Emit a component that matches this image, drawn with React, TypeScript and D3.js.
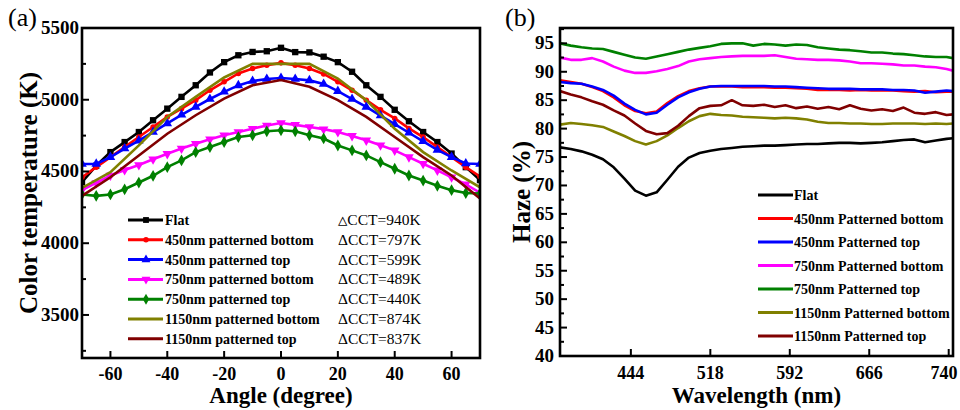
import React from 'react';
import * as d3 from 'd3';

// ---------- Panel (a) data ----------
const angles = [-70, -65, -60, -55, -50, -45, -40, -35, -30, -25, -20, -15, -10, -5, 0, 5, 10, 15, 20, 25, 30, 35, 40, 45, 50, 55, 60, 65, 70];
const anglesCoarse = [-70, -60, -50, -40, -30, -20, -10, 0, 10, 20, 30, 40, 50, 60, 70];
const cctFlat = [4425, 4540, 4635, 4705, 4775, 4857, 4938, 5020, 5101, 5190, 5262, 5310, 5333, 5338, 5362, 5332, 5330, 5300, 5262, 5195, 5101, 5020, 4930, 4850, 4775, 4705, 4625, 4530, 4440];
const cct450Bottom = [4460, 4530, 4600, 4670, 4740, 4810, 4880, 4938, 4997, 5066, 5125, 5183, 5218, 5241, 5257, 5241, 5218, 5180, 5125, 5066, 4997, 4930, 4870, 4800, 4740, 4670, 4600, 4530, 4465];
const cct450Top = [4552, 4553, 4600, 4660, 4715, 4775, 4835, 4895, 4950, 5005, 5055, 5100, 5130, 5145, 5151, 5145, 5135, 5110, 5060, 5005, 4950, 4890, 4830, 4770, 4710, 4650, 4600, 4556, 4552];
const cct750Bottom = [4370, 4420, 4472, 4510, 4545, 4585, 4623, 4660, 4693, 4725, 4752, 4775, 4798, 4820, 4838, 4825, 4810, 4795, 4775, 4748, 4717, 4683, 4647, 4600, 4554, 4508, 4460, 4410, 4352];
const cct750Top = [4340, 4330, 4340, 4376, 4423, 4470, 4530, 4577, 4635, 4670, 4705, 4740, 4752, 4780, 4787, 4780, 4752, 4730, 4681, 4647, 4612, 4565, 4519, 4472, 4437, 4400, 4370, 4350, 4347];
const cct1150Bottom = [4385, 4495, 4682, 4880, 5020, 5155, 5250, 5250, 5250, 5148, 4997, 4798, 4635, 4507, 4390];
const cct1150Top = [4330, 4460, 4612, 4763, 4892, 5008, 5101, 5137, 5090, 4997, 4880, 4740, 4600, 4472, 4312];
const seriesNamesA = ['Flat', '450nm patterned bottom', '450nm patterned top', '750nm patterned bottom', '750nm patterned top', '1150nm patterned bottom', '1150nm patterned top'];
const deltaCCT = ['\u25B3CCT=940K', '\u0394CCT=797K', '\u0394CCT=599K', '\u0394CCT=489K', '\u0394CCT=440K', '\u0394CCT=874K', '\u0394CCT=837K'];
const angleTicks = [-60, -40, -20, 0, 20, 40, 60];
const cctTicks = [3500, 4000, 4500, 5000, 5500];
const cctMinorTicks = [3250, 3750, 4250, 4750, 5250];

// ---------- Panel (b) data ----------
const wavelengths = [378, 388, 398, 408, 418, 428, 438, 448, 458, 468, 478, 488, 498, 508, 518, 528, 538, 548, 558, 568, 578, 588, 598, 608, 618, 628, 638, 648, 658, 668, 678, 688, 698, 708, 718, 728, 738, 744];
const hazeFlat = [76.7, 76.4, 76.0, 75.4, 74.6, 73.2, 71.2, 69.1, 68.2, 68.8, 71.0, 73.3, 74.9, 75.7, 76.1, 76.4, 76.6, 76.8, 76.9, 77.0, 77.0, 77.1, 77.2, 77.3, 77.3, 77.4, 77.5, 77.5, 77.4, 77.5, 77.6, 77.8, 78.0, 78.1, 77.6, 77.9, 78.2, 78.3];
const haze450Bottom = [88.5, 88.2, 87.9, 87.3, 86.6, 85.5, 84.1, 83.1, 82.7, 83.0, 84.5, 85.7, 86.6, 87.1, 87.4, 87.4, 87.4, 87.3, 87.3, 87.3, 87.2, 87.2, 87.1, 87.0, 86.8, 86.8, 86.8, 86.7, 86.8, 86.7, 86.7, 86.7, 86.6, 86.5, 86.6, 86.4, 86.5, 86.5];
const haze450Top = [88.2, 88.0, 87.9, 87.4, 86.8, 85.8, 84.4, 83.3, 82.5, 82.8, 84.2, 85.5, 86.4, 87.0, 87.4, 87.5, 87.5, 87.5, 87.5, 87.5, 87.4, 87.4, 87.3, 87.2, 87.1, 87.0, 87.0, 87.0, 86.9, 86.9, 86.9, 86.8, 86.8, 86.7, 86.3, 86.5, 86.7, 86.6];
const haze750Bottom = [92.5, 92.1, 92.1, 92.4, 91.8, 90.9, 90.2, 89.8, 89.8, 90.1, 90.5, 91.0, 91.8, 92.2, 92.4, 92.6, 92.7, 92.8, 92.8, 92.8, 92.9, 92.6, 92.3, 92.2, 92.1, 92.1, 92.0, 91.8, 91.5, 91.5, 91.4, 91.3, 91.1, 91.1, 90.9, 90.8, 90.5, 90.2];
const haze750Top = [95.0, 94.6, 94.3, 94.1, 94.0, 93.5, 93.0, 92.5, 92.3, 92.7, 93.1, 93.5, 93.9, 94.2, 94.5, 94.9, 95.0, 95.0, 94.6, 94.9, 94.8, 94.6, 94.8, 94.7, 94.3, 94.1, 93.9, 93.8, 93.6, 93.4, 93.4, 93.2, 93.1, 92.9, 92.7, 92.6, 92.6, 92.4];
const haze1150Bottom = [80.7, 81.0, 80.8, 80.6, 80.3, 79.5, 78.7, 77.8, 77.2, 77.8, 78.8, 80.1, 81.3, 82.2, 82.6, 82.4, 82.3, 82.1, 82.0, 81.9, 81.8, 81.9, 81.8, 81.6, 81.2, 81.0, 81.0, 80.9, 80.9, 80.8, 80.8, 80.9, 80.9, 80.9, 80.8, 80.9, 80.8, 80.9];
const haze1150Top = [86.6, 86.0, 85.5, 84.8, 84.2, 83.2, 82.3, 80.9, 79.6, 79.0, 79.2, 80.5, 82.2, 83.6, 84.0, 84.1, 85.0, 84.1, 84.0, 84.2, 83.8, 84.1, 83.6, 83.9, 83.5, 83.8, 83.4, 84.1, 83.5, 83.2, 83.4, 83.1, 83.7, 82.8, 82.6, 82.9, 82.4, 82.5];
const seriesNamesB = ['Flat', '450nm Patterned bottom', '450nm Patterned top', '750nm Patterned bottom', '750nm Patterned top', '1150nm Patterned bottom', '1150nm Patterned top'];
const wlTicks = [444, 518, 592, 666, 740];
const hazeTicks = [40, 45, 50, 55, 60, 65, 70, 75, 80, 85, 90, 95];
const hazeMinorTicks = [42.5, 47.5, 52.5, 57.5, 62.5, 67.5, 72.5, 77.5, 82.5, 87.5, 92.5, 97.5];

const colors = ['#000000', '#ff0000', '#0000ff', '#ff00ff', '#008000', '#808000', '#800000'];
const markerTypes = [d3.symbolSquare, d3.symbolCircle, d3.symbolTriangle, d3.symbolTriangle, d3.symbolDiamond, null, null];
const markerRot = [0, 0, 0, 180, 0, 0, 0];

const SERIF = { fontFamily: "'Liberation Serif', 'Times New Roman', Times, monospace" };

export default function App() {
  // Panel a layout
  const ax = { l: 82, r: 480, t: 28, b: 358 };
  const xA = d3.scaleLinear().domain([-70, 70]).range([ax.l, ax.r]);
  const yA = d3.scaleLinear().domain([3200, 5500]).range([ax.b, ax.t]);
  const seriesA = [
    { x: angles, y: cctFlat },
    { x: angles, y: cct450Bottom },
    { x: angles, y: cct450Top },
    { x: angles, y: cct750Bottom },
    { x: angles, y: cct750Top },
    { x: anglesCoarse, y: cct1150Bottom },
    { x: anglesCoarse, y: cct1150Top },
  ];
  const lineA = d3.line<[number, number]>().x(d => xA(d[0])).y(d => yA(d[1]));

  // Panel b layout
  const bx = { l: 560, r: 953, t: 28, b: 356 };
  const xB = d3.scaleLinear().domain([378, 744]).range([bx.l, bx.r]);
  const yB = d3.scaleLinear().domain([40, 97.7]).range([bx.b, bx.t]);
  const seriesB = [hazeFlat, haze450Bottom, haze450Top, haze750Bottom, haze750Top, haze1150Bottom, haze1150Top];
  const lineB = d3.line<[number, number]>().x(d => xB(d[0])).y(d => yB(d[1]));
  const orderB = [0, 5, 6, 3, 4, 1, 2];

  const sym = (i: number, size: number) => {
    const t = markerTypes[i];
    if (!t) return null;
    return d3.symbol().type(t).size(size)();
  };

  const legendRowsA = seriesNamesA.map((_, i) => 220 + i * 19.8);
  const legendRowsB = seriesNamesB.map((_, i) => 195 + i * 23.5);

  return (
    <svg width={960} height={410} style={{ display: 'block', position: 'absolute', left: 0, top: 0, background: '#fff', ...SERIF }}>
      <rect x={0} y={0} width={960} height={410} fill="#fff" />
      <defs>
        <clipPath id="clipA"><rect x={ax.l} y={ax.t} width={ax.r - ax.l} height={ax.b - ax.t} /></clipPath>
        <clipPath id="clipB"><rect x={bx.l} y={bx.t} width={bx.r - bx.l} height={bx.b - bx.t} /></clipPath>
      </defs>

      {/* ---------- Panel (a) ---------- */}
      <text x={8} y={26} fontSize={26} style={SERIF}>(a)</text>
      <g clipPath="url(#clipA)">
        {seriesA.map((s, i) => {
          const pts = s.x.map((a, k) => [a, s.y[k]] as [number, number]);
          return (
            <g key={i}>
              <path d={lineA(pts) || ''} fill="none" stroke={colors[i]} strokeWidth={2.6} />
              {markerTypes[i] && pts.map((p, k) => (
                <path key={k} d={sym(i, i === 1 ? 24 : 40) || ''} fill={colors[i]}
                  transform={`translate(${xA(p[0])},${yA(p[1])}) rotate(${markerRot[i]})`} />
              ))}
            </g>
          );
        })}
      </g>
      {/* legend a */}
      {seriesNamesA.map((n, i) => (
        <g key={n}>
          <line x1={128} x2={163} y1={legendRowsA[i]} y2={legendRowsA[i]} stroke={colors[i]} strokeWidth={3} />
          {markerTypes[i] && (
            <path d={sym(i, i === 1 ? 24 : 34) || ''} fill={colors[i]} transform={`translate(146,${legendRowsA[i]}) rotate(${markerRot[i]})`} />
          )}
          <text x={165} y={legendRowsA[i] + 5} fontSize={14} fontWeight="bold" style={SERIF}>{n}</text>
          <text x={338} y={legendRowsA[i] + 5} fontSize={15.5} style={SERIF}>{deltaCCT[i]}</text>
        </g>
      ))}
      {/* axes a */}
      {cctTicks.map(t => (
        <g key={t}>
          <line x1={ax.l} x2={ax.l + 7} y1={yA(t)} y2={yA(t)} stroke="#000" strokeWidth={2} />
          <text x={ax.l - 3} y={yA(t) + 6} fontSize={19} fontWeight="bold" textAnchor="end" style={SERIF}>{t}</text>
        </g>
      ))}
      {cctMinorTicks.map(t => (
        <line key={t} x1={ax.l} x2={ax.l + 4} y1={yA(t)} y2={yA(t)} stroke="#000" strokeWidth={2} />
      ))}
      {angleTicks.map(t => (
        <g key={t}>
          <line x1={xA(t)} x2={xA(t)} y1={ax.b} y2={ax.b - 7} stroke="#000" strokeWidth={2} />
          <text x={xA(t)} y={380} fontSize={18} fontWeight="bold" textAnchor="middle" style={SERIF}>{t}</text>
        </g>
      ))}
      <rect x={ax.l} y={ax.t} width={ax.r - ax.l} height={ax.b - ax.t} fill="none" stroke="#000" strokeWidth={2.6} />
      <text x={(ax.l + ax.r) / 2} y={403} fontSize={23} fontWeight="bold" textAnchor="middle" style={SERIF}>Angle (degree)</text>
      <text transform={`translate(37,${(ax.t + ax.b) / 2}) rotate(-90)`} fontSize={25} fontWeight="bold" textAnchor="middle" style={SERIF}>Color temperature (K)</text>

      {/* ---------- Panel (b) ---------- */}
      <text x={505} y={26} fontSize={26} style={SERIF}>(b)</text>
      <g clipPath="url(#clipB)">
        {orderB.map(i => {
          const pts = wavelengths.map((w, k) => [w, seriesB[i][k]] as [number, number]);
          return <path key={i} d={lineB(pts) || ''} fill="none" stroke={colors[i]} strokeWidth={2.6} strokeLinejoin="round" />;
        })}
      </g>
      {seriesNamesB.map((n, i) => (
        <g key={n}>
          <line x1={758} x2={793} y1={legendRowsB[i]} y2={legendRowsB[i]} stroke={colors[i]} strokeWidth={3} />
          <text x={794} y={legendRowsB[i] + 5} fontSize={14} fontWeight="bold" style={SERIF}>{n}</text>
        </g>
      ))}
      {hazeTicks.map(t => (
        <g key={t}>
          <line x1={bx.l} x2={bx.l + 7} y1={yB(t)} y2={yB(t)} stroke="#000" strokeWidth={2} />
          <text x={bx.l - 6} y={yB(t) + 6} fontSize={19} fontWeight="bold" textAnchor="end" style={SERIF}>{t}</text>
        </g>
      ))}
      {hazeMinorTicks.map(t => (
        <line key={t} x1={bx.l} x2={bx.l + 4} y1={yB(t)} y2={yB(t)} stroke="#000" strokeWidth={2} />
      ))}
      {wlTicks.map(t => (
        <g key={t}>
          <line x1={xB(t)} x2={xB(t)} y1={bx.b} y2={bx.b - 7} stroke="#000" strokeWidth={2} />
          <text x={Math.min(xB(t), 944)} y={379} fontSize={18} fontWeight="bold" textAnchor="middle" style={SERIF}>{t}</text>
        </g>
      ))}
      <rect x={bx.l} y={bx.t} width={bx.r - bx.l} height={bx.b - bx.t} fill="none" stroke="#000" strokeWidth={2.6} />
      <text x={(bx.l + bx.r) / 2} y={403} fontSize={23} fontWeight="bold" textAnchor="middle" style={SERIF}>Wavelength (nm)</text>
      <text transform={`translate(530,${(bx.t + bx.b) / 2}) rotate(-90)`} fontSize={25} fontWeight="bold" textAnchor="middle" style={SERIF}>Haze (%)</text>
    </svg>
  );
}
